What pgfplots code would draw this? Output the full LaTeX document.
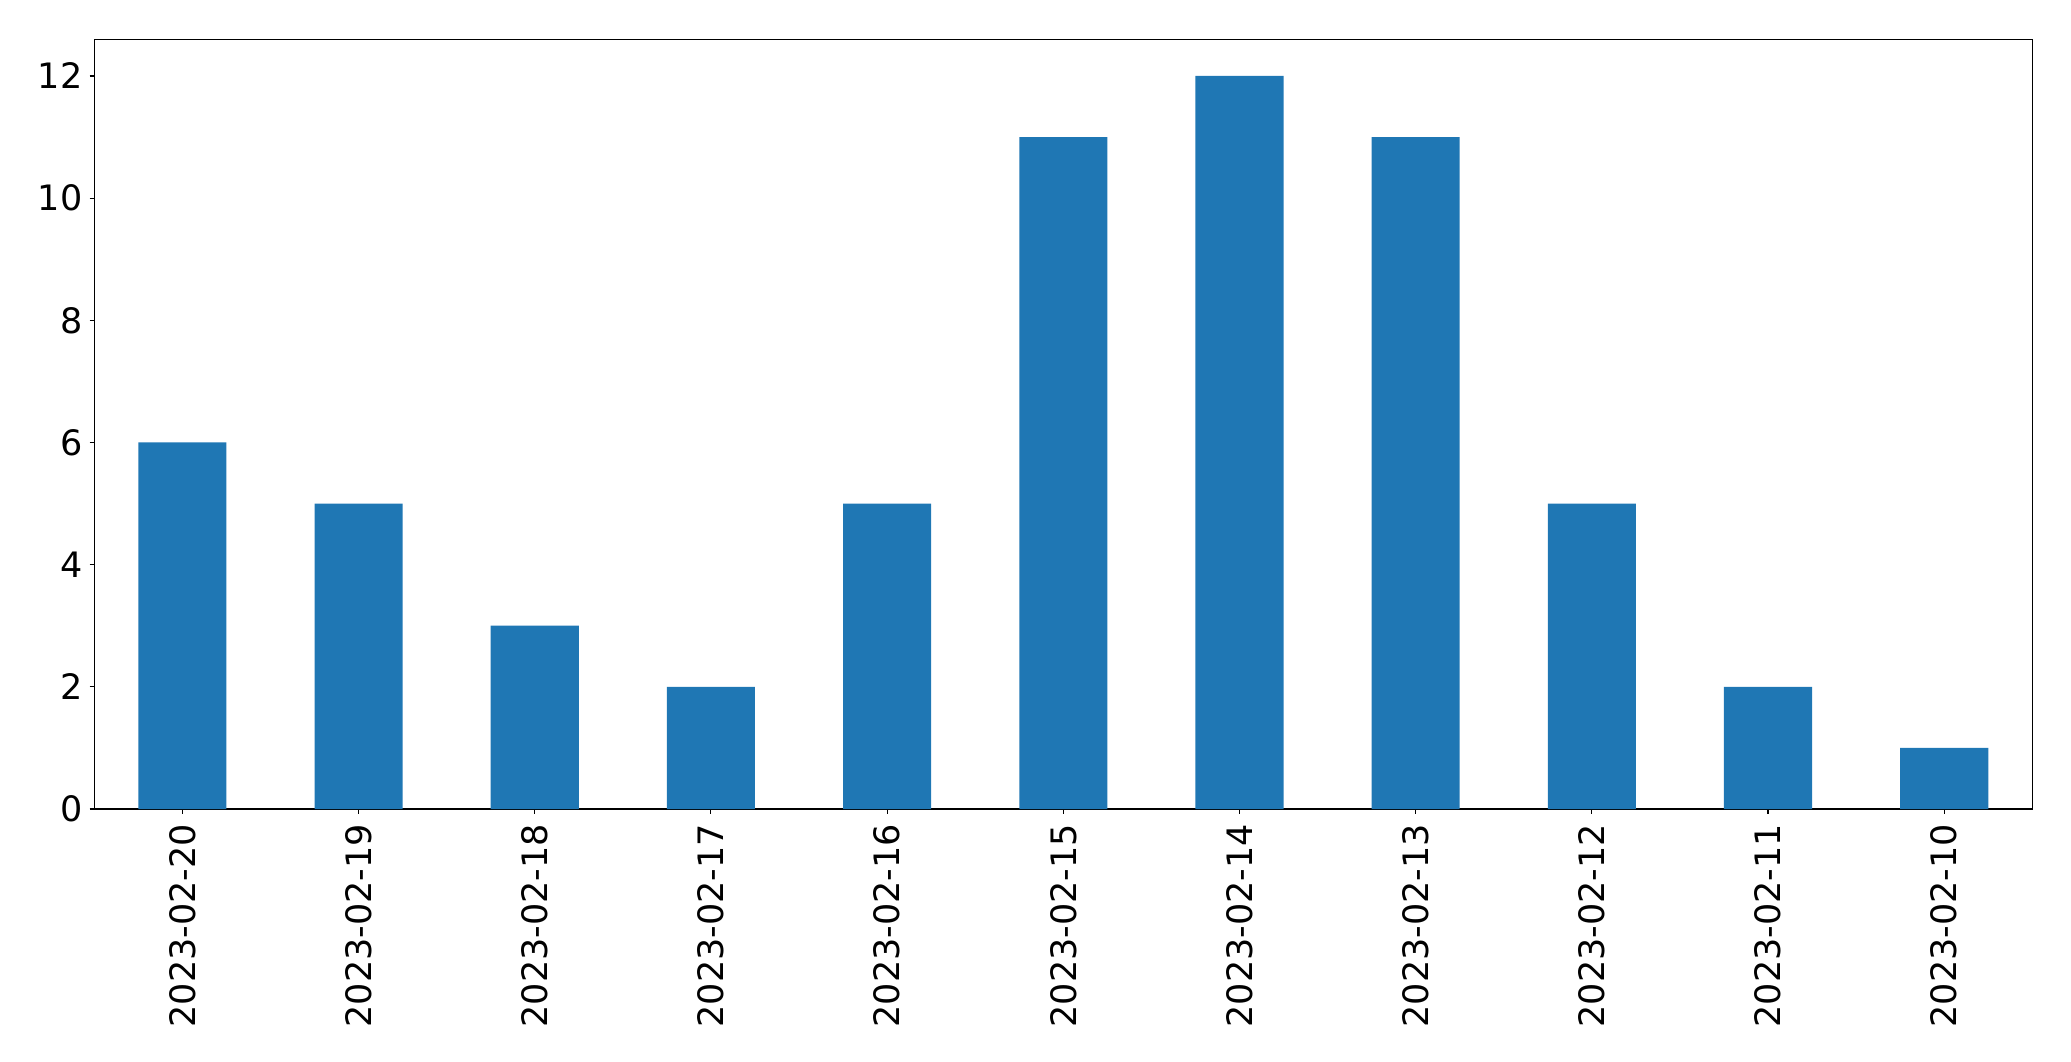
\documentclass[border=0pt]{standalone}
\usepackage{fontspec}
\setmainfont{DejaVu Sans}
\usepackage{pgfplots}
\pgfplotsset{compat=1.18}
\definecolor{tabblue}{RGB}{31,119,180}
\begin{document}
\begin{tikzpicture}
\begin{axis}[
  scale only axis,
  width=1938pt, height=769.7pt,
  xmin=-0.5, xmax=10.5, ymin=0, ymax=12.6,
  xtick={0,...,10},
  xticklabels={2023-02-20,2023-02-19,2023-02-18,2023-02-17,2023-02-16,2023-02-15,2023-02-14,2023-02-13,2023-02-12,2023-02-11,2023-02-10},
  ytick={0,2,4,6,8,10,12},
  xtick pos=bottom, ytick pos=left,
  tick align=outside,
  major tick length=4.7pt,
  every tick/.style={black, line width=1.1pt},
  axis line style={line width=1.1pt},
  /pgf/number format/assume math mode=true,
  ticklabel style={font=\fontsize{35}{42}\selectfont},
  xticklabel style={rotate=90, anchor=east, inner sep=0pt, xshift=-10pt},
  yticklabel style={inner sep=0pt, xshift=-7pt},
  ybar, bar width=0.5,
]
\addplot[fill=tabblue, draw=none] coordinates {
(0,6) (1,5) (2,3) (3,2) (4,5) (5,11) (6,12) (7,11) (8,5) (9,2) (10,1)
};
\end{axis}
\path (current axis.south west) ++(-94.3pt,-252pt) rectangle ++(2071pt,1061pt);
\end{tikzpicture}
\end{document}
